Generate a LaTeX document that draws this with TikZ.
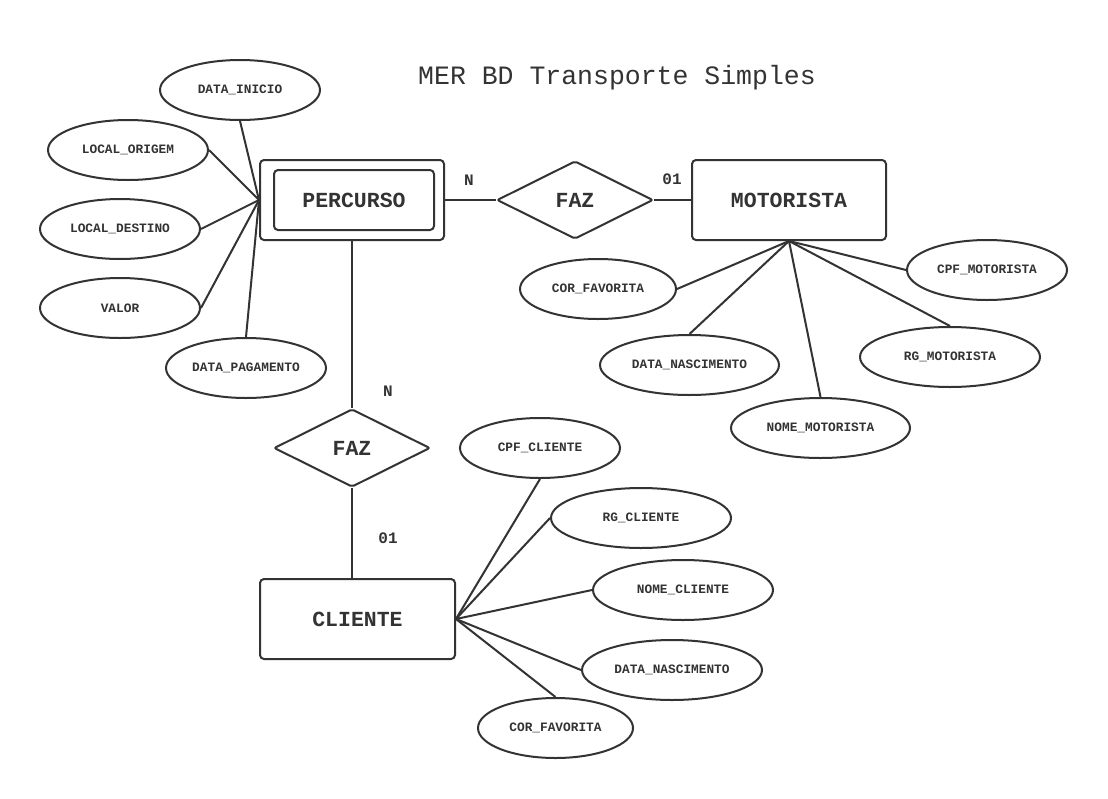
\documentclass[tikz,border=0pt]{standalone}
\usepackage{fontspec}
\setmonofont{Liberation Mono}
\usetikzlibrary{shapes.geometric}
\definecolor{ink}{HTML}{333333}
\begin{document}
\begin{tikzpicture}[x=1pt,y=-1pt,
  every node/.style={text=ink},
  ln/.style={draw=ink,line width=2pt},
  ent/.style={draw=ink,line width=2pt,rounded corners=4pt,inner sep=0pt,font=\ttfamily\bfseries\fontsize{21.5}{24}\selectfont},
  rel/.style={draw=ink,line width=2pt,diamond,inner sep=0pt,minimum width=156pt,minimum height=78pt,rounded corners=2pt,font=\ttfamily\bfseries\fontsize{21.5}{24}\selectfont},
  attr/.style={draw=ink,line width=2pt,ellipse,inner sep=0pt,minimum width=160pt,minimum height=60pt,font=\ttfamily\bfseries\fontsize{12.8}{14}\selectfont},
  card/.style={inner sep=0pt,font=\ttfamily\bfseries\fontsize{16}{18}\selectfont}]
\useasboundingbox[fill=white] (0,0) rectangle (1108,798);
\node[font=\ttfamily\fontsize{26.5}{30}\selectfont] (title) at (617,78) {MER BD Transporte Simples};
% entities
\node[ent,minimum width=184pt,minimum height=80pt] (perc) at (352,200) {};
\node[ent,minimum width=160pt,minimum height=60pt] (percin) at (354,200) {PERCURSO};
\node[ent,minimum width=194pt,minimum height=80pt] (mot) at (789,200) {MOTORISTA};
\node[ent,minimum width=195pt,minimum height=80pt] (cli) at (357.5,619) {CLIENTE};
% relationships
\node[rel] (faz1) at (575,200) {FAZ};
\node[rel] (faz2) at (352,448) {FAZ};
% relationship lines
\draw[ln] (perc.east) -- (faz1.west);
\draw[ln] (faz1.east) -- (mot.west);
\draw[ln] (perc.south) -- (faz2.north);
\draw[ln] (faz2.south) -- (faz2.south |- cli.north);
\node[card] (c1) at (469,180) {N};
\node[card] (c2) at (672,179) {01};
\node[card] (c3) at (388,391) {N};
\node[card] (c4) at (388,538) {01};
% PERCURSO attributes
\node[attr] (di) at (240,90) {DATA\_INICIO};
\node[attr] (lo) at (128,150) {LOCAL\_ORIGEM};
\node[attr] (ld) at (120,229) {LOCAL\_DESTINO};
\node[attr] (va) at (120,308) {VALOR};
\node[attr] (dp) at (246,368) {DATA\_PAGAMENTO};
\draw[ln] (di.south) -- (perc.west);
\draw[ln] (lo.east) -- (perc.west);
\draw[ln] (ld.east) -- (perc.west);
\draw[ln] (va.east) -- (perc.west);
\draw[ln] (dp.north) -- (perc.west);
% MOTORISTA attributes
\node[attr,minimum width=156pt] (mcf) at (598,289) {COR\_FAVORITA};
\node[attr,minimum width=179pt] (mdn) at (689.5,365) {DATA\_NASCIMENTO};
\node[attr,minimum width=179pt] (mnm) at (820.5,428) {NOME\_MOTORISTA};
\node[attr,minimum width=180pt] (mrg) at (950,357) {RG\_MOTORISTA};
\node[attr] (mcpf) at (987,270) {CPF\_MOTORISTA};
\draw[ln] (mcf.east) -- (mot.south);
\draw[ln] (mdn.north) -- (mot.south);
\draw[ln] (mnm.north) -- (mot.south);
\draw[ln] (mrg.north) -- (mot.south);
\draw[ln] (mcpf.west) -- (mot.south);
% CLIENTE attributes
\node[attr] (ccpf) at (540,448) {CPF\_CLIENTE};
\node[attr,minimum width=180pt] (crg) at (641,518) {RG\_CLIENTE};
\node[attr,minimum width=180pt] (cnm) at (683,590) {NOME\_CLIENTE};
\node[attr,minimum width=180pt] (cdn) at (672,670) {DATA\_NASCIMENTO};
\node[attr,minimum width=155pt] (ccf) at (555.5,728) {COR\_FAVORITA};
\draw[ln] (ccpf.south) -- (cli.east);
\draw[ln] (crg.west) -- (cli.east);
\draw[ln] (cnm.west) -- (cli.east);
\draw[ln] (cdn.west) -- (cli.east);
\draw[ln] (ccf.north) -- (cli.east);
\end{tikzpicture}
\end{document}
